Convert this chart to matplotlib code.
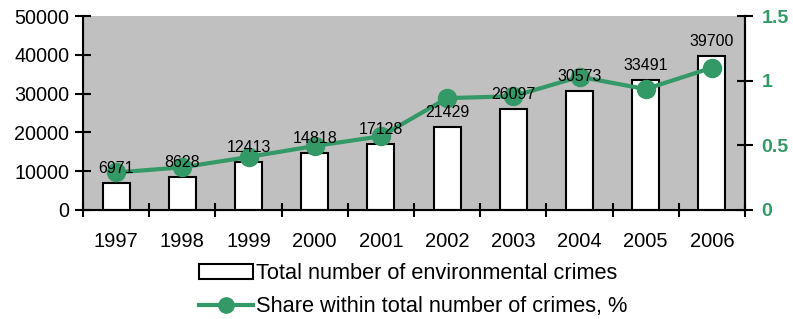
import numpy as np
import matplotlib.pyplot as plt
from matplotlib.lines import Line2D
from matplotlib.patches import Patch

plt.rcParams['font.family'] = ['Liberation Sans', 'DejaVu Sans']

# values
years = ['1997', '1998', '1999', '2000', '2001', '2002', '2003', '2004', '2005', '2006']
crimes = [6971, 8628, 12413, 14818, 17128, 21429, 26097, 30573, 33491, 39700]
share = [0.29, 0.33, 0.41, 0.495, 0.57, 0.865, 0.88, 1.03, 0.935, 1.10]

green = '#339966'
x = np.arange(len(years))

fig = plt.figure(figsize=(7.93, 3.19), dpi=100)
ax = fig.add_axes([0.1047, 0.3417, 0.8348, 0.6081])
ax.set_facecolor('#c0c0c0')

ax.bar(x, crimes, width=0.41, color='white', edgecolor='black', linewidth=1.5, zorder=2)

ax.set_xlim(-0.5, len(years) - 0.5)
ax.set_ylim(0, 50000)
ax.set_yticks(range(0, 50001, 10000))
ax.set_xticks(np.arange(-0.5, len(years), 1))
ax.set_xticklabels([])
ax.set_xticks(x, minor=True)
ax.set_xticklabels(years, minor=True)
ax.tick_params(axis='x', which='major', direction='inout', length=10, width=1.5)
ax.tick_params(axis='x', which='minor', length=0, labelsize=14.5, pad=16)
ax.tick_params(axis='y', direction='inout', length=12, width=1.5, labelsize=14.2, pad=4)
for s in ['left', 'bottom', 'right']:
    ax.spines[s].set_linewidth(1.5)
ax.spines['top'].set_visible(False)

ax2 = ax.twinx()
ax2.plot(x, share, color=green, linewidth=3, marker='o', markersize=13, zorder=4)
ax2.set_ylim(0, 1.5)
ax2.set_yticks([0, 0.5, 1, 1.5])
ax2.set_yticklabels(['0', '0.5', '1', '1.5'])
ax2.tick_params(axis='y', direction='inout', length=12, width=1.5, labelsize=14,
                labelcolor=green, pad=6)
for lab in ax2.get_yticklabels():
    lab.set_fontweight('bold')
ax2.spines['top'].set_visible(False)
ax2.spines['right'].set_linewidth(1.5)

# bar value labels drawn over the line
for xi, v in zip(x, crimes):
    ax2.annotate(str(v), (xi, v), xycoords=ax.transData, xytext=(0, 5),
                 textcoords='offset points', ha='center', va='bottom',
                 fontsize=11.5, zorder=6)

handles = [Patch(facecolor='white', edgecolor='black', linewidth=1.5),
           Line2D([], [], color=green, linewidth=3, marker='o', markersize=11)]
labels = ['Total number of environmental crimes', 'Share within total number of crimes, %']
fig.legend(handles, labels, loc='lower center', bbox_to_anchor=(0.521, -0.056), ncol=1,
           frameon=False, fontsize=15.7, handlelength=2.5, handletextpad=0.15,
           labelspacing=0.55)

fig.savefig('out.png', dpi=100)
